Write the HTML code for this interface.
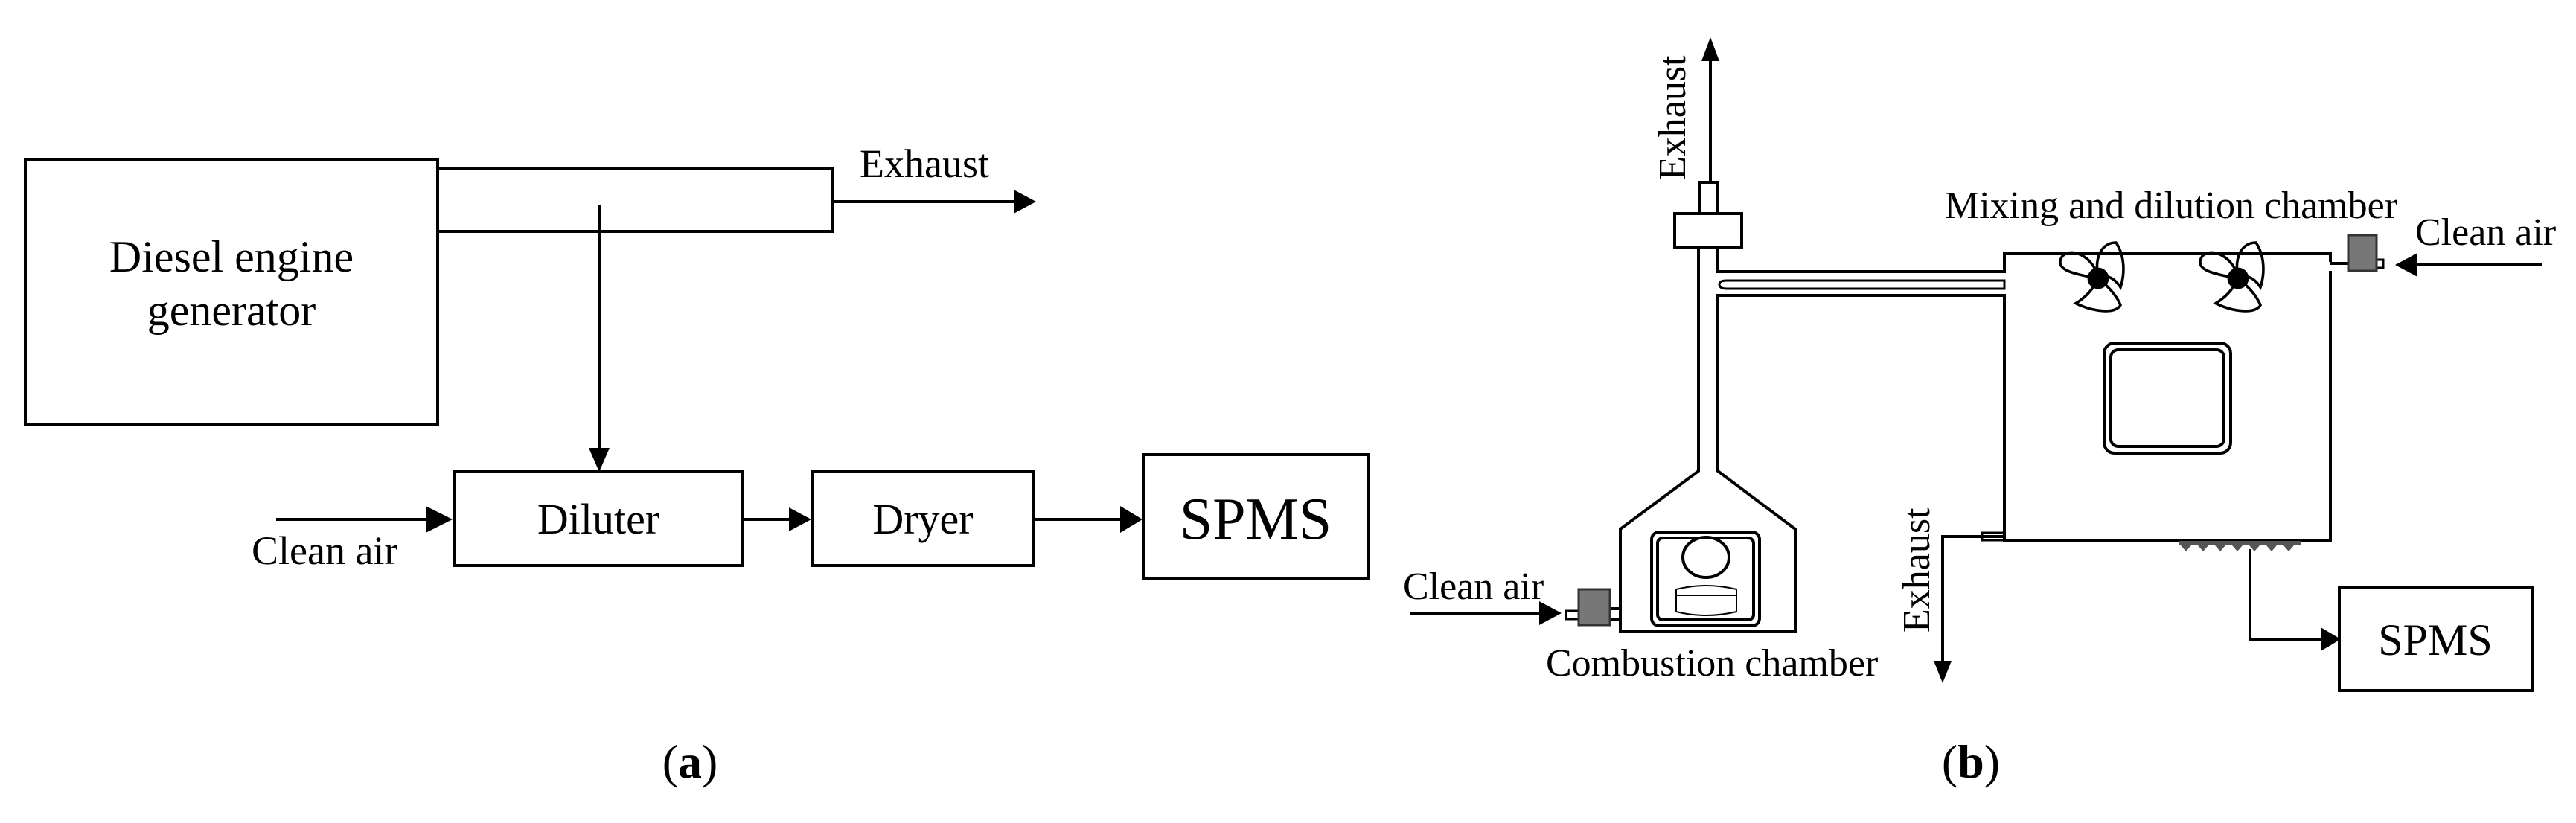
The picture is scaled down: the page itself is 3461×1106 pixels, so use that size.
<!DOCTYPE html>
<html><head><meta charset="utf-8"><style>
html,body{margin:0;padding:0;background:#fff}
svg{display:block}
text{font-family:"Liberation Serif",serif;fill:#000}
</style></head><body>
<svg width="3461" height="1106" viewBox="0 0 3461 1106" xmlns="http://www.w3.org/2000/svg">
<g stroke="#000" stroke-width="4" fill="none">
<!-- (a) -->
<rect x="34" y="214" width="554" height="356"/>
<polyline points="588,227 1118,227 1118,311 588,311"/>
<line x1="1118" y1="271" x2="1365" y2="271"/>
<line x1="805" y1="275" x2="805" y2="605"/>
<rect x="610" y="634" width="388" height="126"/>
<rect x="1091" y="634" width="298" height="126"/>
<rect x="1536" y="611" width="302" height="166"/>
<line x1="371" y1="698" x2="575" y2="698"/>
<line x1="998" y1="698" x2="1065" y2="698"/>
<line x1="1389" y1="698" x2="1510" y2="698"/>
</g>
<g fill="#000">
<polygon points="1362,255 1392,271 1362,287"/>
<polygon points="791,602 819,602 805,634"/>
<polygon points="572,680 608,698 572,716"/>
<polygon points="1060,682 1090,698 1060,714"/>
<polygon points="1505,680 1535,698 1505,716"/>
</g>
<text x="311" y="365" font-size="60" text-anchor="middle">Diesel engine</text>
<text x="311" y="437" font-size="60" text-anchor="middle">generator</text>
<text x="1155" y="238" font-size="54">Exhaust</text>
<text x="338" y="758" font-size="54">Clean air</text>
<text x="804" y="717" font-size="58" text-anchor="middle">Diluter</text>
<text x="1240" y="717" font-size="58" text-anchor="middle">Dryer</text>
<text x="1687" y="724" font-size="80" text-anchor="middle">SPMS</text>
<text x="927" y="1045" font-size="64" text-anchor="middle">(<tspan font-weight="bold">a</tspan>)</text>

<!-- (b) -->
<g stroke="#000" stroke-width="4" fill="none">
<line x1="2298" y1="80" x2="2298" y2="245"/>
<rect x="2284" y="245" width="24" height="42"/>
<rect x="2250" y="287" width="90" height="45" fill="#fff"/>
<polyline points="2282,332 2282,633 2177,711 2177,849 2412,849 2412,711 2308,633 2308,397 2693,397 2693,727 3131,727 3131,364"/>
<polyline points="2308,332 2308,365 2693,365 2693,341 3131,341 3131,352"/>
<path d="M2320,377 H2693 V388 H2320 Q2310,388 2310,382 Q2310,377 2320,377Z" stroke-width="3"/>
<rect x="2827" y="461" width="170" height="148" rx="14"/>
<rect x="2836" y="470" width="152" height="130" rx="10"/>
<rect x="2219" y="715" width="145" height="126" rx="10"/>
<rect x="2227" y="723" width="129" height="110" rx="7"/>
<ellipse cx="2292" cy="749" rx="31" ry="27"/>
<path d="M2252,792 Q2292,782 2333,792 V822 Q2292,832 2252,822Z" stroke-width="2"/>
<line x1="2252" y1="800" x2="2333" y2="800" stroke-width="2"/>
<line x1="2165" y1="818" x2="2177" y2="818"/>
<line x1="2165" y1="832" x2="2177" y2="832"/>
<rect x="2104" y="821" width="18" height="11" stroke-width="3"/>
<line x1="1895" y1="824" x2="2070" y2="824"/>
<polyline points="2693,721 2610,721 2610,890"/>
<rect x="2663" y="716" width="30" height="10" stroke-width="3"/>
<line x1="3131" y1="354" x2="3155" y2="354"/>
<rect x="3193" y="349" width="9" height="11" stroke-width="3"/>
<line x1="3415" y1="356" x2="3245" y2="356"/>
<polyline points="3023,738 3023,859 3120,859"/>
<rect x="3143" y="789" width="259" height="139"/>
</g>
<rect x="2121" y="792" width="42" height="48" fill="#777" stroke="#333" stroke-width="3"/>
<rect x="3155" y="316" width="38" height="48" fill="#777" stroke="#333" stroke-width="3"/>
<g fill="#555">
<rect x="2928" y="727" width="164" height="6"/>
<polygon points="2930,733 2944,733 2937,741"/><polygon points="2953,733 2967,733 2960,741"/><polygon points="2976,733 2990,733 2983,741"/><polygon points="2999,733 3013,733 3006,741"/><polygon points="3022,733 3036,733 3029,741"/><polygon points="3045,733 3059,733 3052,741"/><polygon points="3068,733 3082,733 3075,741"/>
</g>
<g fill="#000">
<polygon points="2298,50 2286,82 2310,82"/>
<polygon points="2068,808 2098,824 2068,840"/>
<polygon points="2598,888 2622,888 2610,918"/>
<polygon points="3248,340 3218,356 3248,372"/>
<polygon points="3118,843 3145,859 3118,875"/>
</g>
<g stroke="#000" stroke-width="3" fill="none">
<g transform="translate(2819,374) scale(1.2)">
<path d="M0,0 C-30,-5 -50,-10 -40,-25 C-30,-35 -5,-25 0,0"/>
<path d="M0,0 C-5,-25 5,-40 20,-40 C30,-25 30,-5 25,10 C15,-5 5,-3 0,0"/>
<path d="M0,0 C-5,12 -15,22 -25,28 C-5,38 20,40 25,30 C20,18 10,8 0,0"/>
<circle r="12" fill="#000" stroke="none"/>
</g>
<g transform="translate(3007,374) scale(1.2)">
<path d="M0,0 C-30,-5 -50,-10 -40,-25 C-30,-35 -5,-25 0,0"/>
<path d="M0,0 C-5,-25 5,-40 20,-40 C30,-25 30,-5 25,10 C15,-5 5,-3 0,0"/>
<path d="M0,0 C-5,12 -15,22 -25,28 C-5,38 20,40 25,30 C20,18 10,8 0,0"/>
<circle r="12" fill="#000" stroke="none"/>
</g>
</g>
<text x="0" y="0" font-size="52" transform="translate(2264,242) rotate(-90)">Exhaust</text>
<text x="0" y="0" font-size="52" transform="translate(2592,850) rotate(-90)">Exhaust</text>
<text x="2613" y="293" font-size="52">Mixing and dilution chamber</text>
<text x="3245" y="329" font-size="52">Clean air</text>
<text x="1885" y="805" font-size="52">Clean air</text>
<text x="2077" y="908" font-size="52">Combustion chamber</text>
<text x="3272" y="880" font-size="60" text-anchor="middle">SPMS</text>
<text x="2648" y="1045" font-size="64" text-anchor="middle">(<tspan font-weight="bold">b</tspan>)</text>
</svg>
</body></html>
